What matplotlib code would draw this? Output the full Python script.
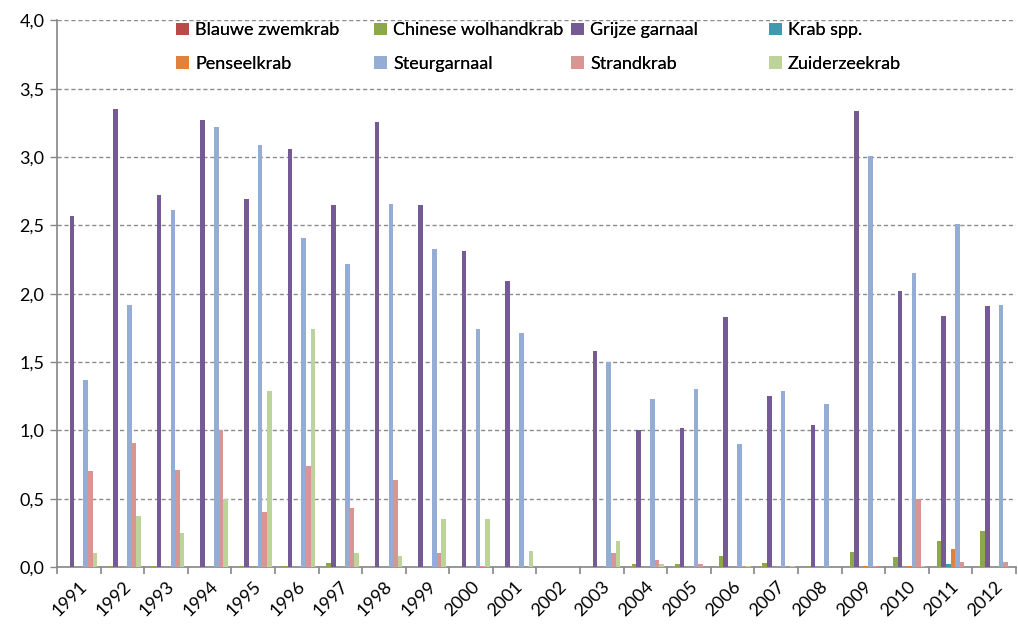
import numpy as np
import matplotlib
matplotlib.use("Agg")
import matplotlib.pyplot as plt
from matplotlib.patches import Patch
from matplotlib.ticker import FuncFormatter, FixedLocator

plt.rcParams["font.family"] = ["Lato", "DejaVu Sans"]

jaren = [str(j) for j in range(1991, 2013)]

soorten = ["Blauwe zwemkrab", "Chinese wolhandkrab", "Grijze garnaal", "Krab spp.",
           "Penseelkrab", "Steurgarnaal", "Strandkrab", "Zuiderzeekrab"]

blauwe_zwemkrab = [0, 0, 0, 0, 0, 0, 0, 0, 0, 0, 0,
                   0, 0, 0, 0, 0, 0, 0, 0, 0, 0, 0]
chinese_wolhandkrab = [0, 0.005, 0.01, 0, 0.01, 0.01, 0.03, 0, 0, 0, 0,
                       0, 0, 0.02, 0.02, 0.08, 0.03, 0.005, 0.11, 0.07, 0.19, 0.26]
grijze_garnaal = [2.57, 3.35, 2.72, 3.27, 2.69, 3.06, 2.65, 3.26, 2.65, 2.31, 2.09,
                  0, 1.58, 1.00, 1.02, 1.83, 1.25, 1.04, 3.34, 2.02, 1.84, 1.91]
krab_spp = [0, 0, 0, 0, 0, 0, 0, 0, 0, 0, 0,
            0, 0, 0, 0, 0, 0, 0, 0, 0, 0.02, 0]
penseelkrab = [0, 0, 0, 0, 0, 0, 0, 0, 0, 0, 0,
               0, 0, 0, 0, 0, 0, 0, 0.005, 0.005, 0.13, 0]
steurgarnaal = [1.37, 1.92, 2.61, 3.22, 3.09, 2.41, 2.22, 2.66, 2.33, 1.74, 1.71,
                0, 1.50, 1.23, 1.30, 0.90, 1.29, 1.19, 3.01, 2.15, 2.51, 1.92]
strandkrab = [0.70, 0.91, 0.71, 1.00, 0.40, 0.74, 0.43, 0.64, 0.10, 0.01, 0,
              0, 0.10, 0.05, 0.02, 0.01, 0, 0, 0.005, 0.50, 0.04, 0.04]
zuiderzeekrab = [0.10, 0.37, 0.25, 0.50, 1.29, 1.74, 0.10, 0.08, 0.35, 0.35, 0.12,
                 0, 0.19, 0.02, 0, 0.005, 0.005, 0, 0, 0.01, 0, 0]

reeksen = [blauwe_zwemkrab, chinese_wolhandkrab, grijze_garnaal, krab_spp,
           penseelkrab, steurgarnaal, strandkrab, zuiderzeekrab]
kleuren = ["#B84A47", "#8BA84D", "#765A96", "#4199B0",
           "#E0823D", "#94ADD5", "#D99594", "#BCD39A"]

fig = plt.figure(figsize=(10.18, 6.24), dpi=100)
ax = fig.add_axes([0.056, 0.0913, 0.942, 0.876])

x = np.arange(len(jaren))
breedte = 0.106
for i, (waarden, kleur) in enumerate(zip(reeksen, kleuren)):
    ax.bar(x + (i - 3.5) * breedte, waarden, width=breedte, color=kleur,
           edgecolor="none", zorder=3)

ax.set_xlim(-0.5, len(jaren) - 0.5)
ax.set_ylim(0, 4.0)
ax.set_yticks(np.arange(0, 4.01, 0.5))
ax.yaxis.set_major_formatter(FuncFormatter(lambda v, p: f"{v:.1f}".replace(".", ",")))
ax.grid(axis="y", color="#8C8C8C", linestyle=(0, (3, 2)), linewidth=1.0, zorder=0)

ax.set_xticks(x)
ax.set_xticklabels(jaren, rotation=45, ha="right", va="top", rotation_mode="anchor")
ax.xaxis.set_minor_locator(FixedLocator(np.arange(-0.5, len(jaren), 1.0)))
ax.tick_params(axis="x", which="major", length=0, pad=8, labelsize=13)
ax.tick_params(axis="x", which="minor", length=5, color="#868686", width=1.2)
ax.tick_params(axis="y", length=5, color="#868686", width=1.0, labelsize=13, pad=4)

for s in ["top", "right"]:
    ax.spines[s].set_visible(False)
for s in ["left", "bottom"]:
    ax.spines[s].set_color("#868686")
    ax.spines[s].set_linewidth(1.2)

# legenda: vier kolommen van twee, elk apart geplaatst
kolom_x = [176 / 1018, 374 / 1018, 571 / 1018, 769 / 1018]
for k in range(4):
    idx = [k, k + 4]
    handles = [Patch(facecolor=kleuren[j], edgecolor="none") for j in idx]
    labels = [soorten[j] for j in idx]
    leg = fig.legend(handles, labels, loc="upper left",
                     bbox_to_anchor=(kolom_x[k], 0.964), frameon=False,
                     fontsize=13, handlelength=0.7, handleheight=0.7,
                     handletextpad=0.35, labelspacing=0.95, borderpad=0,
                     borderaxespad=0)
    fig.add_artist(leg)

fig.savefig("out.png", dpi=100)
